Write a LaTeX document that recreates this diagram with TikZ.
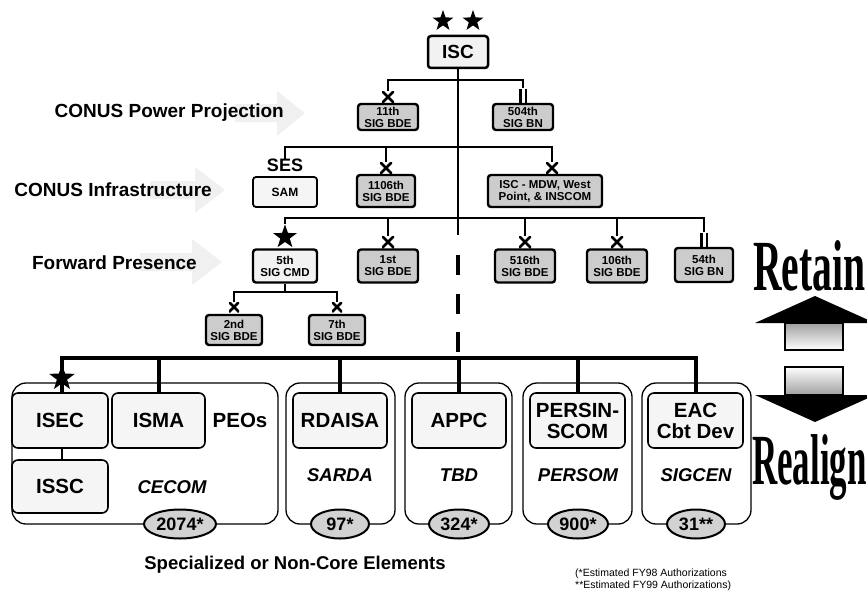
\documentclass[tikz,border=0pt]{standalone}
\usepackage{fontspec}
\setmainfont{Liberation Sans}
\newfontfamily\serifb{Liberation Serif}
\usetikzlibrary{shapes.geometric}
\begin{document}
\begin{tikzpicture}[x=1pt,y=-1pt,
  conn/.style={line width=2.8pt},
  lowconn/.style={line width=4pt},
  trunkdash/.style={line width=4.5pt, dash pattern=on 20pt off 18.5pt},
  unitbox/.style={draw, line width=2.4pt, rounded corners=3pt, fill=gray!40, align=center,
    inner sep=0pt, minimum width=60pt, minimum height=32pt, font=\bfseries\fontsize{11.5}{12}\selectfont},
  whitebox/.style={draw, line width=1.8pt, rounded corners=3pt, fill=gray!8, align=center,
    inner sep=0pt, font=\bfseries},
  bigbox/.style={draw, line width=1.6pt, rounded corners=6pt, fill=gray!8, align=center,
    inner sep=0pt, minimum height=55pt, font=\bfseries\fontsize{20.5}{21}\selectfont},
  container/.style={draw, line width=1.3pt, rounded corners=14pt},
  countell/.style={ellipse, draw, line width=2pt, fill=gray!35, inner sep=0pt,
    minimum height=29pt, font=\bfseries\fontsize{18}{18}\selectfont},
  starnode/.style={star, star points=5, star point ratio=2.5, fill=black, inner sep=0pt, minimum size=22pt},
  xnode/.style={inner sep=0pt, minimum size=12pt, path picture={
    \draw[line width=2.6pt] (path picture bounding box.south west)--(path picture bounding box.north east)
      (path picture bounding box.north west)--(path picture bounding box.south east);}},
  iinode/.style={inner sep=0pt, minimum width=10pt, minimum height=15pt, path picture={
    \draw[line width=2.2pt] ([xshift=-2.6pt]path picture bounding box.north)--([xshift=-2.6pt]path picture bounding box.south)
      ([xshift=2.6pt]path picture bounding box.north)--([xshift=2.6pt]path picture bounding box.south);}},
  levellabel/.style={font=\bfseries\fontsize{19}{21}\selectfont, anchor=east, inner sep=0pt},
  ital/.style={font=\bfseries\itshape\fontsize{18.5}{20}\selectfont, inner sep=0pt},
  grayarrow/.style={fill=gray!12}
]
\useasboundingbox (0,0) rectangle (867,594);

% ---------- level labels with faint arrows ----------
\fill[grayarrow] (235,104) -- (277,104) -- (277,91) -- (305,113) -- (277,136) -- (277,122) -- (235,122) -- cycle;
\fill[grayarrow] (150,181) -- (195,181) -- (195,167) -- (225,190) -- (195,213) -- (195,199) -- (150,199) -- cycle;
\fill[grayarrow] (140,253) -- (192,253) -- (192,239) -- (222,262) -- (192,285) -- (192,271) -- (140,271) -- cycle;
\node[levellabel] (lpp) at (284,113) {CONUS Power Projection};
\node[levellabel] (lci) at (212,190) {CONUS Infrastructure};
\node[levellabel] (lfp) at (197,263) {Forward Presence};

% ---------- top ----------
\node[starnode] (s1) at (443,21) {};
\node[starnode] (s2) at (473,21) {};
\node[whitebox, line width=2.5pt, minimum width=60pt, minimum height=32pt, fill=gray!10,
  font=\bfseries\fontsize{19}{19}\selectfont] (isc) at (458,52) {ISC};

\coordinate (t1) at (458,235);
\coordinate (t2) at (458,255);
\coordinate (b1) at (458,80);
\coordinate (b2) at (458,147);
\coordinate (b3) at (458,218);
\coordinate (b4) at (285,292);
\coordinate (b5) at (458,358);

\draw[conn] (isc.south) -- (t1);
\draw[trunkdash] (t2) -- (b5);

% level 1
\node[unitbox, minimum height=26pt] (u11) at (388,117) {11th\\SIG BDE};
\node[unitbox, minimum height=26pt] (u504) at (523,117) {504th\\SIG BN};
\node[xnode] (x11) at (388,97) {};
\node[iinode] (ii504) at (523,96) {};
\draw[conn] (x11.north) |- (b1) -| (ii504.north);

% level 2
\node[font=\bfseries\fontsize{18}{18}\selectfont, inner sep=0pt] (ses) at (285,165) {SES};
\node[whitebox, minimum width=64pt, minimum height=30pt, font=\bfseries\fontsize{12}{12}\selectfont] (sam) at (285,192) {SAM};
\node[unitbox, minimum width=58pt] (u1106) at (386,191) {1106th\\SIG BDE};
\node[unitbox, minimum width=114pt] (mdw) at (545,191) {ISC - MDW, West\\Point, \& INSCOM};
\node[xnode] (x1106) at (386,168) {};
\node[xnode] (xmdw) at (552,168) {};
\draw[conn] ([yshift=-1pt]ses.north) |- (b2) -| (xmdw.north);
\draw[conn] (x1106.north) -- (x1106.north |- b2);

% level 3
\node[starnode, minimum size=25pt] (s5) at (285,237) {};
\node[unitbox, minimum width=64pt, minimum height=33pt, fill=gray!10] (c5) at (285,266) {5th\\SIG CMD};
\node[unitbox, minimum height=33pt] (u1) at (388,266) {1st\\SIG BDE};
\node[unitbox, minimum height=33pt] (u516) at (525,266) {516th\\SIG BDE};
\node[unitbox, minimum height=33pt] (u106) at (617,266) {106th\\SIG BDE};
\node[unitbox, minimum width=58pt, minimum height=34pt] (u54) at (704,265) {54th\\SIG BN};
\node[xnode] (x1) at (388,242) {};
\node[xnode] (x516) at (525,242) {};
\node[xnode] (x106) at (617,242) {};
\node[iinode] (ii54) at (704,240) {};
\draw[conn] (s5.north) |- (b3) -| (ii54.north);
\draw[conn] (x1.north) -- (x1.north |- b3);
\draw[conn] (x516.north) -- (x516.north |- b3);
\draw[conn] (x106.north) -- (x106.north |- b3);

% 5th sub-level
\node[unitbox, minimum width=56pt, minimum height=30pt] (u2) at (234,330) {2nd\\SIG BDE};
\node[unitbox, minimum width=56pt, minimum height=30pt] (u7) at (337,330) {7th\\SIG BDE};
\node[xnode, minimum size=10pt] (x2) at (234,307) {};
\node[xnode, minimum size=10pt] (x7) at (337,307) {};
\draw[conn] (c5.south) -- (b4);
\draw[conn] (x2.north) |- (b4) -| (x7.north);

% ---------- lower part ----------
\node[container, minimum width=266pt, minimum height=141pt] (kcecom) at (145,453.5) {};
\node[container, minimum width=109pt, minimum height=141pt] (ksarda) at (340.5,453.5) {};
\node[container, minimum width=107pt, minimum height=141pt] (ktbd) at (458.5,453.5) {};
\node[container, minimum width=109pt, minimum height=141pt] (kpersom) at (577.5,453.5) {};
\node[container, minimum width=109pt, minimum height=141pt] (ksigcen) at (696.5,453.5) {};

\node[bigbox, minimum width=96pt] (isec) at (60,420.5) {ISEC};
\node[bigbox, minimum width=93pt] (isma) at (158.5,420.5) {ISMA};
\node[bigbox, minimum width=96pt, minimum height=53pt] (issc) at (60,486.5) {ISSC};
\node[bigbox, minimum width=94pt] (rdaisa) at (340,420.5) {RDAISA};
\node[bigbox, minimum width=94pt] (appc) at (459,420.5) {APPC};
\node[bigbox, minimum width=95pt] (persin) at (577.5,420.5) {PERSIN-\\SCOM};
\node[bigbox, minimum width=95pt] (eac) at (695.5,420.5) {EAC\\Cbt Dev};

\node[font=\bfseries\fontsize{20.5}{21}\selectfont, inner sep=0pt] (peos) at (240,420) {PEOs};
\node[ital] (cecom) at (172,487) {CECOM};
\node[ital] (sarda) at (340,475) {SARDA};
\node[ital] (tbd) at (459,475) {TBD};
\node[ital] (persom) at (578,475) {PERSOM};
\node[ital] (sigcen) at (696,475) {SIGCEN};

\node[countell, minimum width=72pt] (n1) at (180,524) {2074*};
\node[countell, minimum width=58pt] (n2) at (340,524) {97*};
\node[countell, minimum width=60pt] (n3) at (459,524) {324*};
\node[countell, minimum width=60pt] (n4) at (578,524) {900*};
\node[countell, minimum width=58pt] (n5) at (696,524) {31**};

\coordinate (se) at (62,378);
\draw[lowconn] (se) |- (b5) -| (eac.north);
\draw[lowconn] (se) -- (se |- isec.north);
\draw[lowconn] (isma.north) -- (isma.north |- b5);
\draw[lowconn] (rdaisa.north) -- (rdaisa.north |- b5);
\draw[lowconn] (appc.north) -- (appc.north |- b5);
\draw[lowconn] (persin.north) -- (persin.north |- b5);
\draw[conn] (se |- isec.south) -- (se |- issc.north);
\node[starnode, minimum size=27pt] (sisec) at (se) {};

% ---------- bottom texts ----------
\node[font=\bfseries\fontsize{18.5}{19}\selectfont, inner sep=0pt] (spec) at (295,565) {Specialized or Non-Core Elements};
\node[font=\fontsize{10.5}{11}\selectfont, anchor=west, inner sep=0pt] (fn1) at (575,574) {(*Estimated FY98 Authorizations};
\node[font=\fontsize{10.5}{11}\selectfont, anchor=west, inner sep=0pt] (fn2) at (575,586) {**Estimated FY99 Authorizations)};

% ---------- Retain / Realign ----------
\node[anchor=base west, inner sep=0pt] (retain) at (753,290)
  {\scalebox{0.55}[1]{\serifb\bfseries\fontsize{72}{72}\selectfont Retain}};
\node[anchor=base west, inner sep=0pt] (realign) at (752,484)
  {\scalebox{0.485}[1]{\serifb\bfseries\fontsize{72}{72}\selectfont Realign}};

\fill[black] (755,323) -- (815,296) -- (875,323) -- cycle;
\shade[top color=gray!75, bottom color=white, draw=black, line width=1.2pt] (785,323) rectangle (843,350);
\shade[top color=white, bottom color=gray!75, draw=black, line width=1.2pt] (785,367) rectangle (843,395);
\fill[black] (755,395) -- (875,395) -- (815,422) -- cycle;
\end{tikzpicture}
\end{document}
